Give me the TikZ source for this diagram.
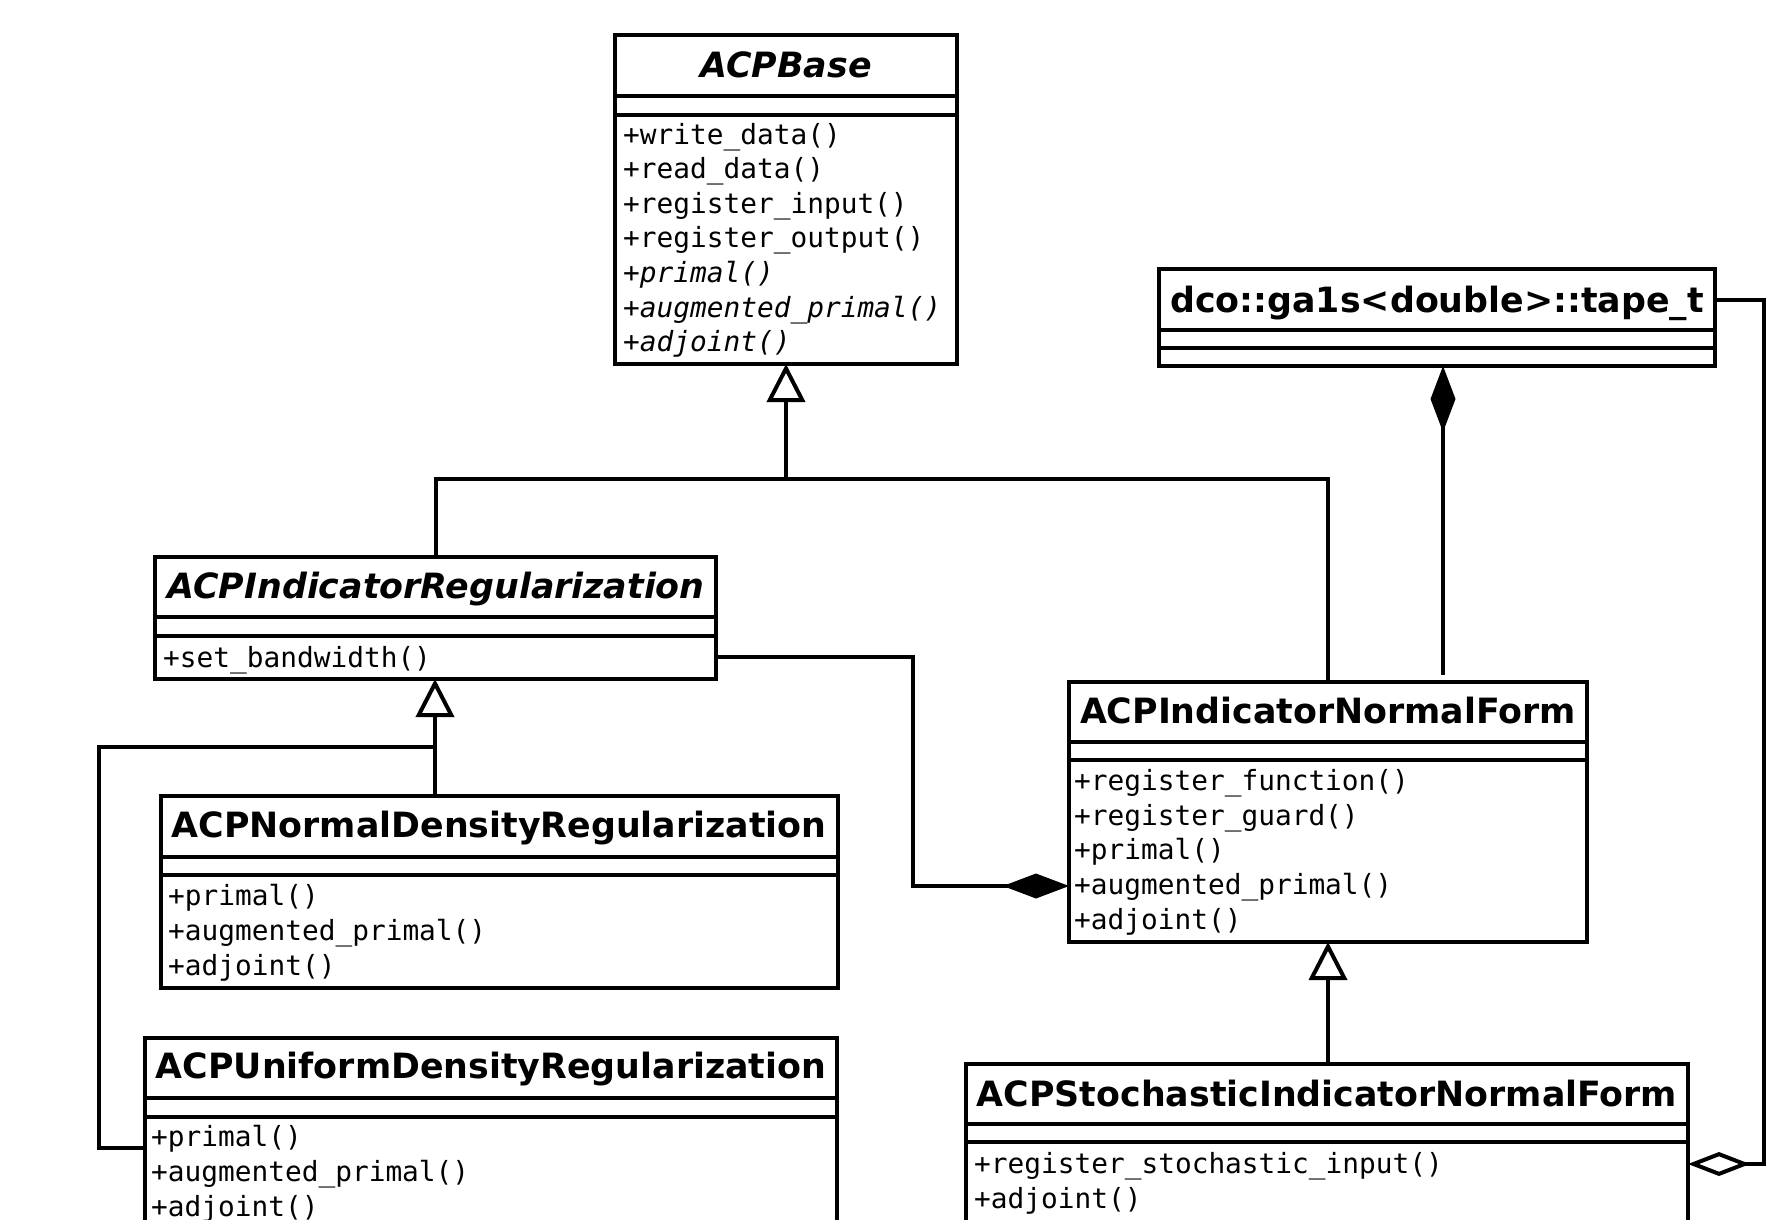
\documentclass[tikz,border=0pt]{standalone}
\usepackage{fontspec}
\setmainfont{DejaVu Sans}
\newfontfamily\umlmono{DejaVu Sans Mono}
\usetikzlibrary{arrows.meta,calc}
\begin{document}
\begin{tikzpicture}[x=1pt,y=-1pt,
  classbox/.style={draw, line width=4pt, rectangle, inner sep=0pt, outer sep=0pt, anchor=north west},
  divider/.style={line width=4pt},
  ttl/.style={font=\fontsize{34.8}{40}\selectfont\bfseries, inner sep=0pt, anchor=base},
  meth/.style={font=\umlmono\fontsize{27.8}{33}\selectfont, inner sep=0pt, anchor=base west},
  conn/.style={line width=4pt},
  inherit/.style={-{Triangle[open, length=38pt, width=38pt, line width=4pt]}},
  compo/.style={-{Diamond[length=66pt, width=25pt]}},
  aggr/.style={-{Diamond[open, length=62pt, width=24pt, line width=4pt]}},
]
\path[use as bounding box, fill=white] (0,0) rectangle (1790,1219);
\clip (0,0) rectangle (1790,1219);

% ---------- ACPBase ----------
\node[classbox, minimum width=342pt, minimum height=329pt] (base) at (615,35) {};
\draw[divider] (base.west |- 0,96) -- (base.east |- 0,96);
\draw[divider] (base.west |- 0,115) -- (base.east |- 0,115);
\node[ttl] (base-t) at (786,77) {\itshape ACPBase};
\node[meth] (base-m1) at (623,144) {+write\_data()};
\node[meth] (base-m2) at (623,178.6) {+read\_data()};
\node[meth] (base-m3) at (623,213.2) {+register\_input()};
\node[meth] (base-m4) at (623,247.8) {+register\_output()};
\node[meth] (base-m5) at (623,282.4) {\itshape +primal()};
\node[meth] (base-m6) at (623,317) {\itshape +augmented\_primal()};
\node[meth] (base-m7) at (623,351.6) {\itshape +adjoint()};

% ---------- dco tape ----------
\node[classbox, minimum width=556pt, minimum height=97pt] (dco) at (1159,269) {};
\draw[divider] (dco.west |- 0,330) -- (dco.east |- 0,330);
\draw[divider] (dco.west |- 0,348) -- (dco.east |- 0,348);
\node[ttl] (dco-t) at (1437,312) {dco::ga1s<double>::tape\_t};

% ---------- ACPIndicatorRegularization ----------
\node[classbox, minimum width=561pt, minimum height=122pt] (ireg) at (155,557) {};
\draw[divider] (ireg.west |- 0,617) -- (ireg.east |- 0,617);
\draw[divider] (ireg.west |- 0,636) -- (ireg.east |- 0,636);
\node[ttl] (ireg-t) at (436,598) {\itshape ACPIndicatorRegularization};
\node[meth] (ireg-m1) at (163,667) {+set\_bandwidth()};

% ---------- ACPNormalDensityRegularization ----------
\node[classbox, minimum width=677pt, minimum height=192pt] (nreg) at (161,796) {};
\draw[divider] (nreg.west |- 0,857) -- (nreg.east |- 0,857);
\draw[divider] (nreg.west |- 0,875) -- (nreg.east |- 0,875);
\node[ttl] (nreg-t) at (499,837) {ACPNormalDensityRegularization};
\node[meth] (nreg-m1) at (168,905) {+primal()};
\node[meth] (nreg-m2) at (168,940) {+augmented\_primal()};
\node[meth] (nreg-m3) at (168,975) {+adjoint()};

% ---------- ACPUniformDensityRegularization ----------
\node[classbox, minimum width=692pt, minimum height=250pt] (ureg) at (145,1038) {};
\draw[divider] (ureg.west |- 0,1098) -- (ureg.east |- 0,1098);
\draw[divider] (ureg.west |- 0,1117) -- (ureg.east |- 0,1117);
\node[ttl] (ureg-t) at (491,1078) {ACPUniformDensityRegularization};
\node[meth] (ureg-m1) at (151,1146) {+primal()};
\node[meth] (ureg-m2) at (151,1181) {+augmented\_primal()};
\node[meth] (ureg-m3) at (151,1216) {+adjoint()};

% ---------- ACPIndicatorNormalForm ----------
\node[classbox, minimum width=518pt, minimum height=260pt] (inf) at (1069,682) {};
\draw[divider] (inf.west |- 0,742) -- (inf.east |- 0,742);
\draw[divider] (inf.west |- 0,760) -- (inf.east |- 0,760);
\node[ttl] (inf-t) at (1328,723) {ACPIndicatorNormalForm};
\node[meth] (inf-m1) at (1074,790) {+register\_function()};
\node[meth] (inf-m2) at (1074,825) {+register\_guard()};
\node[meth] (inf-m3) at (1074,859.5) {+primal()};
\node[meth] (inf-m4) at (1074,894.5) {+augmented\_primal()};
\node[meth] (inf-m5) at (1074,929) {+adjoint()};

% ---------- ACPStochasticIndicatorNormalForm ----------
\node[classbox, minimum width=722pt, minimum height=250pt] (sinf) at (966,1064) {};
\draw[divider] (sinf.west |- 0,1124) -- (sinf.east |- 0,1124);
\draw[divider] (sinf.west |- 0,1142) -- (sinf.east |- 0,1142);
\node[ttl] (sinf-t) at (1327,1106) {ACPStochasticIndicatorNormalForm};
\node[meth] (sinf-m1) at (974,1173) {+register\_stochastic\_input()};
\node[meth] (sinf-m2) at (974,1208) {+adjoint()};

% ---------- connectors ----------
\coordinate (j1) at (786,479);
\draw[conn] (ireg.north) |- (j1);
\draw[conn] (inf.north) |- (j1);
\draw[conn, inherit] (j1) -- (base.south);

\coordinate (j2) at (435,747);
\coordinate (u1) at (99,1148);
\draw[conn] (nreg.north -| j2) -- (j2);
\draw[conn] (ureg.west |- u1) -- (u1) |- (j2);
\draw[conn, inherit] (j2) -- (ireg.south -| j2);

\coordinate (c1) at (913,657);
\coordinate (c2) at (913,886);
\draw[conn, compo] (ireg.east |- c1) -- (c1) -- (c2) -- (inf.west |- c2);

\coordinate (c3) at (1443,675);
\draw[conn, compo] (c3) -- (c3 |- dco.south);

\coordinate (a1) at (1764,300);
\coordinate (a2) at (1764,1164);
\draw[conn, aggr] (dco.east |- a1) -- (a1) -- (a2) -- (sinf.east |- a2);

\draw[conn, inherit] (inf.south |- sinf.north) -- (inf.south);
\end{tikzpicture}
\end{document}
